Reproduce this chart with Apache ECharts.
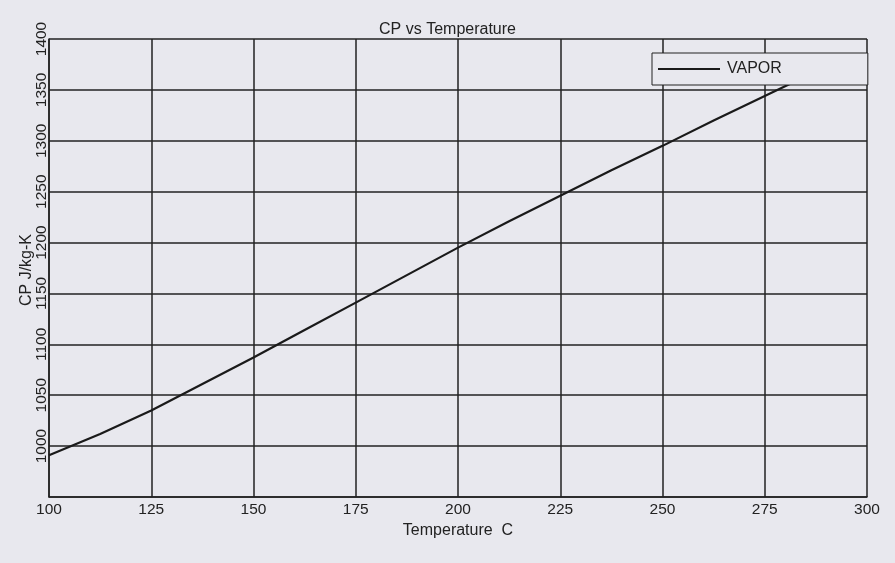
<!DOCTYPE html>
<html>
<head>
<meta charset="utf-8">
<script src="https://cdn.jsdelivr.net/npm/echarts@6/dist/echarts.min.js"></script>
<style>
html,body{margin:0;padding:0;background:#e8e8ee;}
#chart{width:895px;height:563px;}
</style>
</head>
<body>
<div id="chart"></div>
<script>
const temperatures = [100, 112.5, 125, 137.5, 150, 162.5, 175, 187.5, 200, 212.5, 225, 237.5, 250, 262.5, 275, 287.5];
const vaporCp = [991, 1012, 1035, 1061, 1087, 1114, 1141, 1168, 1195, 1221, 1246, 1271, 1295, 1320, 1344, 1368];
const xTicks = [100, 125, 150, 175, 200, 225, 250, 275, 300];
const yTicks = [1000, 1050, 1100, 1150, 1200, 1250, 1300, 1350, 1400];

const chart = echarts.init(document.getElementById('chart'));
const font = 'Liberation Sans, Arial, sans-serif';
chart.setOption({
  backgroundColor: '#e8e8ee',
  animation: false,
  title: {
    text: 'CP vs Temperature',
    left: 'center',
    top: 17,
    textStyle: {fontFamily: font, fontSize: 16, fontWeight: 'normal', color: '#222'}
  },
  legend: {
    left: 652,
    top: 53,
    data: ['VAPOR'],
    icon: 'rect',
    itemWidth: 62,
    itemHeight: 2,
    itemGap: 5,
    padding: [7, 86, 7, 6],
    backgroundColor: '#e8e8ee',
    borderColor: '#222',
    borderWidth: 1,
    borderRadius: 0,
    textStyle: {fontFamily: font, fontSize: 16, color: '#222', padding: [0, 0, 0, 2], lineHeight: 18}
  },
  grid: {left: 49, right: 28, top: 39, bottom: 66},
  xAxis: {
    type: 'value',
    min: 100, max: 300, interval: 25,
    name: 'Temperature  C',
    nameLocation: 'middle',
    nameGap: 24,
    nameTextStyle: {fontFamily: font, fontSize: 16, color: '#222'},
    axisLine: {show: true, lineStyle: {color: '#222', width: 1.5}},
    axisTick: {show: false},
    axisLabel: {
      fontFamily: font, fontSize: 15.5, color: '#222', margin: 5,
      formatter: v => xTicks.includes(v) ? String(v) : ''
    },
    splitLine: {show: true, lineStyle: {color: '#222', width: 1.5}}
  },
  yAxis: {
    type: 'value',
    min: 950, max: 1400, interval: 50,
    axisLine: {show: true, lineStyle: {color: '#222', width: 1.5}},
    axisTick: {show: false},
    axisLabel: {
      fontFamily: font, fontSize: 15.5, color: '#222', rotate: 90, margin: -1,
      formatter: v => yTicks.includes(v) ? String(v) : ''
    },
    splitLine: {show: true, lineStyle: {color: '#222', width: 1.5}}
  },
  graphic: [{
    type: 'text',
    x: 27,
    y: 270,
    rotation: Math.PI / 2,
    style: {
      text: 'CP J/kg-K',
      fontFamily: font,
      fontSize: 16,
      fill: '#222',
      align: 'center',
      verticalAlign: 'middle'
    }
  }],
  series: [{
    name: 'VAPOR',
    type: 'line',
    symbol: 'none',
    smooth: false,
    lineStyle: {color: '#1a1a1a', width: 2.2},
    itemStyle: {color: '#1a1a1a'},
    data: temperatures.map((t, i) => [t, vaporCp[i]])
  }]
});
</script>
</body>
</html>
